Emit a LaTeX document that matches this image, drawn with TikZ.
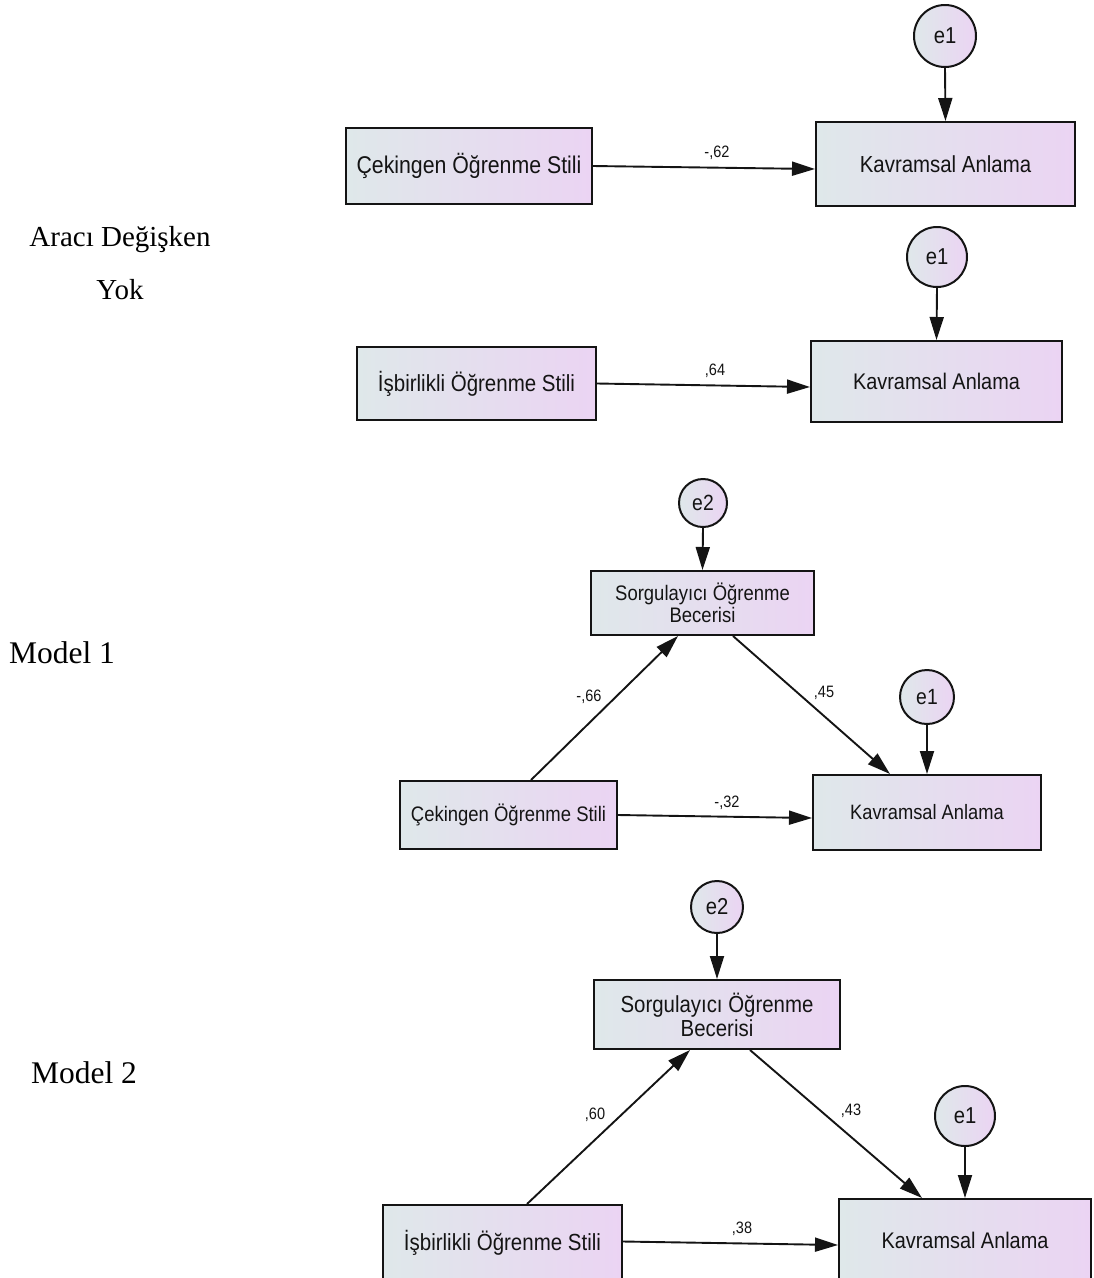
\documentclass[tikz,border=0pt]{standalone}
\usepackage{fontspec}
\setmainfont{Liberation Serif}
\newfontfamily\arial[FakeStretch=0.88]{Liberation Sans}
\usetikzlibrary{arrows.meta}
\definecolor{boxL}{RGB}{223,232,234}
\definecolor{boxR}{RGB}{235,212,243}
\definecolor{ink}{RGB}{20,20,20}
\newcommand{\fs}[1]{\fontsize{#1}{#1}\selectfont}
\begin{document}
\begin{tikzpicture}[x=1pt,y=-1pt,
  obs/.style={draw=ink, line width=2pt, left color=boxL, right color=boxR,
    inner sep=0pt, align=center, text=ink},
  err/.style={circle, draw=ink, line width=2pt, left color=boxL, right color=boxR,
    inner sep=0pt, text=ink},
  reg/.style={line width=1.9pt, draw=ink, -{Triangle[length=23pt,width=14pt]}},
  coef/.style={font=\arial\fs{16.5}, text=ink},
  side/.style={font=\fs{29}, text=black}]
\useasboundingbox (0,0) rectangle (1094,1278);

% side labels
\node[side] (t1) at (120,240) {Aracı Değişken};
\node[side] (t2) at (120,290) {Yok};
\node[side, font=\fs{31.5}] (t3) at (62,653) {Model 1};
\node[side, font=\fs{31.5}] (t4) at (84,1073) {Model 2};

% ---------- Diagram A ----------
\node[obs, minimum width=246pt, minimum height=76pt, font=\arial\fs{24.2}] (ca) at (469,166) {Çekingen Öğrenme Stili};
\node[obs, minimum width=259pt, minimum height=84pt, font=\arial\fs{23.2}] (ka) at (945.5,164) {Kavramsal Anlama};
\node[err, minimum size=62pt, font=\arial\fs{23}] (e1a) at (945,36) {e1};
\draw[reg] (e1a.south) -- (ka.north);
\draw[reg] (ca.east) -- ([yshift=-5pt]ka.west);
\node[coef] (la) at (717,153) {-,62};

% ---------- Diagram B ----------
\node[obs, minimum width=239pt, minimum height=73pt, font=\arial\fs{23.3}] (ib) at (476.5,383.5) {İşbirlikli Öğrenme Stili};
\node[obs, minimum width=251pt, minimum height=81pt, font=\arial\fs{22.6}] (kb) at (936.5,381.5) {Kavramsal Anlama};
\node[err, minimum size=60pt, font=\arial\fs{23}] (e1b) at (937,257) {e1};
\draw[reg] (e1b.south) -- (kb.north);
\draw[reg] (ib.east) -- ([yshift=-5.5pt]kb.west);
\node[coef] (lb) at (715,371) {,64};

% ---------- Diagram C (Model 1) ----------
\node[err, minimum size=48pt, font=\arial\fs{22}] (e2c) at (703,503) {e2};
\node[obs, minimum width=223pt, minimum height=64pt, font=\arial\fontsize{21}{22}\selectfont] (sc) at (702.5,603) {Sorgulayıcı Öğrenme\\Becerisi};
\node[err, minimum size=54pt, font=\arial\fs{22}] (e1c) at (927,697) {e1};
\node[obs, minimum width=228pt, minimum height=75pt, font=\arial\fs{20.8}] (kc) at (927,812.5) {Kavramsal Anlama};
\node[obs, minimum width=217pt, minimum height=68pt, font=\arial\fs{21}] (cc) at (508.5,815) {Çekingen Öğrenme Stili};
\draw[reg] (e2c.south) -- (sc.north);
\draw[reg] (e1c.south) -- (kc.north);
\draw[reg] (cc.east) -- ([yshift=-5.5pt]kc.west);
\draw[reg] ([xshift=22.5pt]cc.north) -- ([xshift=-24.5pt]sc.south);
\draw[reg] ([xshift=30.5pt]sc.south) -- ([xshift=-37pt]kc.north);
\node[coef] (lc1) at (727,803) {-,32};
\node[coef] (lc2) at (589,697) {-,66};
\node[coef] (lc3) at (824,693) {,45};

% ---------- Diagram D (Model 2) ----------
\node[err, minimum size=52pt, font=\arial\fs{23}] (e2d) at (717,907) {e2};
\node[obs, minimum width=246pt, minimum height=69pt, font=\arial\fontsize{23.2}{24}\selectfont] (sd) at (717,1014.5) {Sorgulayıcı Öğrenme\\Becerisi};
\node[err, minimum size=60pt, font=\arial\fs{23}] (e1d) at (965,1116) {e1};
\node[obs, minimum width=252pt, minimum height=82pt, font=\arial\fs{22.6}] (kd) at (965,1240) {Kavramsal Anlama};
\node[obs, minimum width=239pt, minimum height=76pt, font=\arial\fs{23.3}] (id) at (502.5,1243) {İşbirlikli Öğrenme Stili};
\draw[reg] (e2d.south) -- (sd.north);
\draw[reg] (e1d.south) -- (kd.north);
\draw[reg] ([yshift=1.5pt]id.east) -- ([yshift=-5pt]kd.west);
\draw[reg] ([xshift=24.5pt]id.north) -- ([xshift=-27pt]sd.south);
\draw[reg] ([xshift=33pt]sd.south) -- ([xshift=-43pt]kd.north);
\node[coef] (ld1) at (742,1229) {,38};
\node[coef] (ld2) at (595,1115) {,60};
\node[coef] (ld3) at (851,1111) {,43};
\end{tikzpicture}
\end{document}
